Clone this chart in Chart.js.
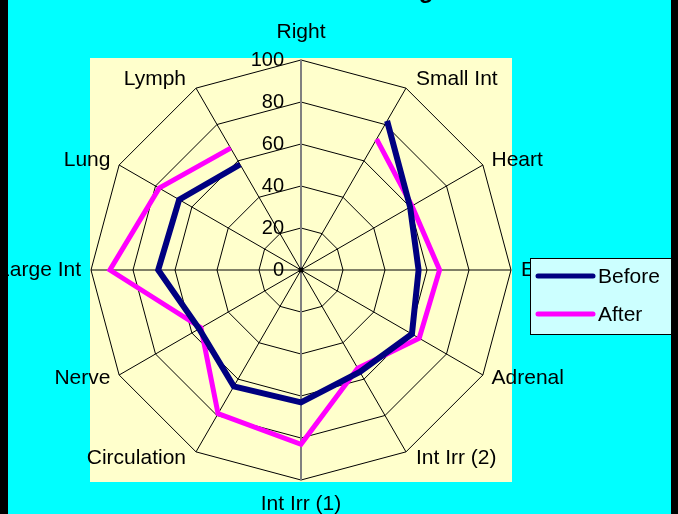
<!DOCTYPE html>
<html>
<head>
<meta charset="utf-8">
<script src="https://cdn.jsdelivr.net/npm/chart.js@4/dist/chart.umd.min.js"></script>
<style>
  html, body { margin: 0; padding: 0; background: #00ffff; overflow: hidden; }
  #wrap { position: relative; width: 678px; height: 514px; }
  #chart { position: absolute; left: 0; top: 0; }
  .bar { position: absolute; top: 0; height: 514px; background: #000; }
</style>
</head>
<body>
<div id="wrap">
  <canvas id="chart" width="678" height="514"></canvas>
  <div class="bar" style="left:0;width:8px"></div>
  <div class="bar" style="right:0;width:7px"></div>
</div>
<script>
// categories, clockwise from the top
const categories = ['Right', 'Small Int', 'Heart', 'Endocrine', 'Adrenal', 'Int Irr (2)',
                    'Int Irr (1)', 'Circulation', 'Nerve', 'Large Int', 'Lung', 'Lymph'];
// readings (Right has no value, so the line is left open there)
const beforeValues = [null, 82, 60, 56, 61, 56, 63, 64, 56, 68, 67, 58];
const afterValues  = [null, 72, 61, 66, 65, 54, 83, 79, 55, 91, 78, 67];
const tickValues = [0, 20, 40, 60, 80, 100];
const seriesNames = ['Before', 'After'];
const seriesColors = ['#000080', '#ff00ff'];
const chartTitle = 'Meridian Testing';

const FONT = '"Liberation Sans", Arial, sans-serif';

// yellow plot area + title (only its lower edge shows)
const backdrop = {
    id: 'backdrop',
    beforeDraw(chart) {
        const s = chart.scales.r;
        const ctx = chart.ctx;
        const R = s.drawingArea;
        ctx.save();
        ctx.fillStyle = '#ffffcc';
        ctx.fillRect(s.xCenter - R - 1, s.yCenter - R - 2, 2 * R + 2, 2 * R + 4);
        ctx.fillStyle = '#000';
        ctx.font = 'bold 24px ' + FONT;
        ctx.textAlign = 'center';
        ctx.textBaseline = 'alphabetic';
        ctx.fillText(chartTitle, 339, -2);
        ctx.restore();
    }
};

// tick labels, category labels, legend
const labelsAndLegend = {
    id: 'labelsAndLegend',
    afterDraw(chart) {
        const s = chart.scales.r;
        const ctx = chart.ctx;
        const R = s.drawingArea;
        ctx.save();
        ctx.fillStyle = '#000';

        // centre dot
        ctx.beginPath();
        ctx.arc(s.xCenter, s.yCenter, 2.5, 0, Math.PI * 2);
        ctx.fill();

        // value ticks, to the left of the vertical axis
        ctx.font = '20px ' + FONT;
        ctx.textAlign = 'right';
        ctx.textBaseline = 'middle';
        s.ticks.forEach(t => {
            const y = s.yCenter - s.getDistanceFromCenterForValue(t.value);
            ctx.fillText(String(t.value), s.xCenter - 17, y);
        });

        // category labels
        ctx.font = '21px ' + FONT;
        const n = chart.data.labels.length;
        chart.data.labels.forEach((lab, i) => {
            const deg = i * 360 / n;
            if (deg === 0) {
                ctx.textAlign = 'center';
                ctx.textBaseline = 'alphabetic';
                ctx.fillText(lab, s.xCenter, s.yCenter - R - 22);
            } else if (deg === 180) {
                ctx.textAlign = 'center';
                ctx.textBaseline = 'alphabetic';
                ctx.fillText(lab, s.xCenter, s.yCenter + R + 30);
            } else {
                const p = s.getPointPosition(i, R + 10);
                const right = deg < 180;
                const steep = (deg % 180 === 30 || deg % 180 === 150);
                const dx = steep ? 5 : 0;
                const dy = (deg > 90 && deg < 270) ? -2 : 0;
                ctx.textAlign = right ? 'left' : 'right';
                ctx.textBaseline = 'middle';
                ctx.fillText(lab, p.x + (right ? dx : -dx), p.y + dy);
            }
        });

        // legend box
        const lx = 530, ly = 258, lw = 141, lh = 76;
        ctx.fillStyle = '#ccffff';
        ctx.fillRect(lx, ly, lw, lh);
        ctx.strokeStyle = '#000';
        ctx.lineWidth = 1;
        ctx.strokeRect(lx + 0.5, ly + 0.5, lw, lh);
        ctx.font = '21px ' + FONT;
        ctx.textAlign = 'left';
        ctx.textBaseline = 'middle';
        chart.data.datasets.forEach((ds, k) => {
            const y = ly + 18 + k * 38;
            ctx.strokeStyle = ds.borderColor;
            ctx.lineWidth = 5;
            ctx.lineCap = 'round';
            ctx.beginPath();
            ctx.moveTo(lx + 8, y);
            ctx.lineTo(lx + 63, y);
            ctx.stroke();
            ctx.fillStyle = '#000';
            ctx.fillText(ds.label, lx + 68, y + 1);
        });
        ctx.restore();
    }
};

const ctx = document.getElementById('chart').getContext('2d');
new Chart(ctx, {
    type: 'radar',
    data: {
        labels: categories,
        datasets: [
            { label: seriesNames[0], data: beforeValues, borderColor: seriesColors[0], borderWidth: 6 },
            { label: seriesNames[1], data: afterValues, borderColor: seriesColors[1], borderWidth: 5 }
        ].map(ds => Object.assign(ds, {
            fill: false,
            pointRadius: 0,
            pointHoverRadius: 0,
            spanGaps: false,
            borderJoinStyle: 'miter',
            borderCapStyle: 'butt'
        }))
    },
    options: {
        responsive: false,
        animation: false,
        devicePixelRatio: 1,
        layout: { padding: { left: 91, right: 167, top: 60, bottom: 34 } },
        plugins: {
            legend: { display: false },
            tooltip: { enabled: false },
            title: { display: false }
        },
        scales: {
            r: {
                min: tickValues[0],
                max: tickValues[tickValues.length - 1],
                ticks: { display: false, stepSize: tickValues[1] - tickValues[0] },
                pointLabels: { display: false },
                grid: { circular: false, color: '#000', lineWidth: 1 },
                angleLines: {
                    color: c => (c.index % 6 === 0 ? '#808080' : '#000'),
                    lineWidth: c => (c.index % 6 === 0 ? 2 : 1)
                }
            }
        }
    },
    plugins: [backdrop, labelsAndLegend]
});
</script>
</body>
</html>
